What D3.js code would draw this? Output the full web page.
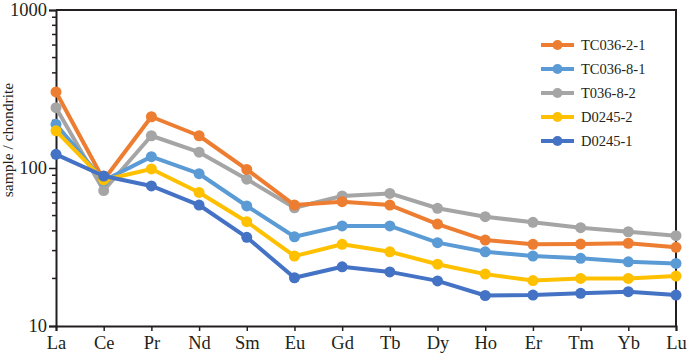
<!DOCTYPE html>
<html>
  <head>
    <title>REE pattern</title>
    <script src="https://d3js.org/d3.v7.min.js"></script>
    <style>
    body { margin: 0; background: white; }
    svg text { font-family: "Liberation Serif", "Times New Roman", serif; fill: #231f20; }
    </style>
  </head>
  <body>
      <script>
          var width = 692;
          var height = 356;

          var elements = ["La","Ce","Pr","Nd","Sm","Eu","Gd","Tb","Dy","Ho","Er","Tm","Yb","Lu"];
          var yTicks = [10, 100, 1000];

          // chondrite-normalised values
          var tc036_2_1 = [303, 84, 211, 160, 98, 58.3, 61.2, 58.3, 44.2, 35, 32.9, 33, 33.4, 31.5];
          var tc036_8_1 = [189, 83, 118, 92, 57.5, 36.7, 43, 43, 33.7, 29.5, 27.7, 26.8, 25.5, 24.9];
          var t036_8_2  = [241, 72, 160, 126, 85, 56, 66.5, 69, 55.6, 49.2, 45.3, 41.9, 39.5, 37.3];
          var d0245_2   = [172, 84, 98.6, 70, 45.7, 27.7, 32.9, 29.5, 24.6, 21.3, 19.4, 20, 20, 20.7];
          var d0245_1   = [122, 89, 77, 58.3, 36.4, 20.2, 23.7, 22, 19.3, 15.6, 15.7, 16.1, 16.5, 15.7];

          var seriesNames = ["TC036-2-1","TC036-8-1","T036-8-2","D0245-2","D0245-1"];
          var seriesColors = ["#ed7d31","#5b9bd5","#a5a5a5","#ffc000","#4472c4"];
          var seriesValues = [tc036_2_1, tc036_8_1, t036_8_2, d0245_2, d0245_1];
          // draw order (back to front)
          var drawOrder = [2, 0, 1, 3, 4];

          var margin = {top: 10, right: 16, bottom: 30, left: 56};

          var svg = d3.select("body")
                      .append("svg")
                      .attr("width", width)
                      .attr("height", height)

          var x = d3.scalePoint()
                    .domain(elements)
                    .range([margin.left, width - margin.right])
                    .padding(0)

          var y = d3.scaleLog()
                    .domain([10, 1000])
                    .range([height - margin.bottom, margin.top])

          // frame (top + right)
          svg.append("path")
             .attr("d", "M" + margin.left + "," + margin.top + "H" + (width - margin.right) + "V" + (height - margin.bottom))
             .attr("fill", "none")
             .attr("stroke", "#231f20")
             .attr("stroke-width", 2)

          // y axis: major + minor ticks
          var minor = [];
          for (var d = 10; d < 1000; d *= 10) {
            for (var k = 2; k < 10; k++) minor.push(d * k);
          }

          var yAxis = svg.append("g")
             .attr("transform", "translate(" + margin.left + ",0)")
             .call(d3.axisLeft(y).tickValues(yTicks).tickFormat(d3.format("d")).tickSize(7).tickPadding(2))

          yAxis.append("g")
             .selectAll("line")
             .data(minor)
             .enter()
             .append("line")
             .attr("x1", -4)
             .attr("x2", 0)
             .attr("y1", function(d){ return y(d) })
             .attr("y2", function(d){ return y(d) })
             .attr("stroke", "#231f20")
             .attr("stroke-width", 1.5)

          var xAxis = svg.append("g")
             .attr("transform", "translate(0," + (height - margin.bottom) + ")")
             .call(d3.axisBottom(x).tickSize(5).tickPadding(5))

          svg.selectAll(".domain").attr("stroke", "#231f20").attr("stroke-width", 2)
          svg.selectAll(".tick line").attr("stroke", "#231f20").attr("stroke-width", 1.5)
          svg.selectAll(".tick text")
             .attr("font-family", "Liberation Serif")
             .style("font-size", "18.5px")
             .attr("fill", "#231f20")

          svg.append("text")
             .attr("transform", "translate(13,140) rotate(-90)")
             .attr("text-anchor", "middle")
             .style("font-size", "15.5px")
             .text("sample / chondrite")

          var line = d3.line()
                       .x(function(d, i){ return x(elements[i]) })
                       .y(function(d){ return y(d) })

          var plot = svg.append("g")

          drawOrder.forEach(function(s){
            var g = plot.append("g")
            g.append("path")
             .datum(seriesValues[s])
             .attr("d", line)
             .attr("fill", "none")
             .attr("stroke", seriesColors[s])
             .attr("stroke-width", 4)
             .attr("stroke-linejoin", "round")

            g.selectAll("circle")
             .data(seriesValues[s])
             .enter()
             .append("circle")
             .attr("cx", function(d, i){ return x(elements[i]) })
             .attr("cy", function(d){ return y(d) })
             .attr("r", 5.5)
             .attr("fill", seriesColors[s])
          })

          // legend
          var legend = svg.append("g")
                          .attr("transform", "translate(541,45)")

          var items = legend.selectAll("g")
                            .data(seriesNames)
                            .enter()
                            .append("g")
                            .attr("transform", function(d, i){ return "translate(0," + (i * 24) + ")" })

          items.append("line")
               .attr("x1", 0)
               .attr("x2", 33)
               .attr("stroke", function(d, i){ return seriesColors[i] })
               .attr("stroke-width", 4)

          items.append("circle")
               .attr("cx", 16.5)
               .attr("r", 5)
               .attr("fill", function(d, i){ return seriesColors[i] })

          items.append("text")
               .attr("x", 40)
               .attr("dy", "0.35em")
               .style("font-size", "14.5px")
               .text(function(d){ return d })
      </script>
  </body>
</html>
